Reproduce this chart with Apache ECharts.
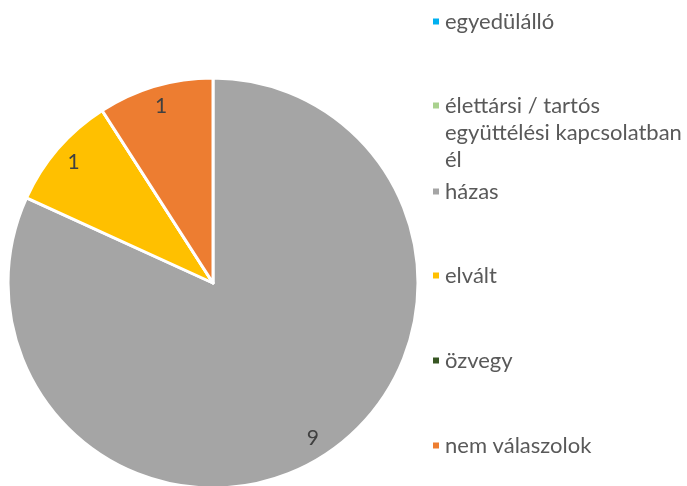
<!DOCTYPE html>
<html lang="hu">
<head>
<meta charset="UTF-8">
<title>Családi állapot</title>
<script src="https://cdn.jsdelivr.net/npm/echarts@6/dist/echarts.min.js"></script>
<style>
  html, body { margin: 0; padding: 0; background: #fff; }
  #chart { width: 687px; height: 486px; }
</style>
</head>
<body>
<div id="chart"></div>
<script>
// adatok
var categories = ['egyedülálló', 'élettársi / tartós együttélési kapcsolatban él', 'házas', 'elvált', 'özvegy', 'nem válaszolok'];
var values = [0, 0, 9, 1, 0, 1];
var colors = ['#00B0F0', '#A9D18E', '#A5A5A5', '#FFC000', '#375623', '#ED7D31'];
// a jelmagyarázat sortörései (két üres sor elöl, hogy a jel az első sorhoz igazodjon)
var legendText = {
    'élettársi / tartós együttélési kapcsolatban él': '\n\nélettársi / tartós\negyüttélési kapcsolatban\nél'
};

var chart = echarts.init(document.getElementById('chart'));

var pieData = categories.map(function (name, i) {
    return { name: name, value: values[i], itemStyle: { color: colors[i] } };
});

var legendTops = [3, 33, 173, 257, 342, 427];
var legends = categories.map(function (name, i) {
    return {
        data: [{ name: name, itemStyle: { color: colors[i] } }],
        orient: 'vertical',
        left: 426,
        top: legendTops[i],
        icon: 'rect',
        itemWidth: 8,
        itemHeight: 8,
        selectedMode: false,
        formatter: function (n) { return legendText[n] || n; },
        textStyle: {
            fontFamily: 'Lato',
            fontSize: 22,
            color: '#595959',
            lineHeight: 27
        }
    };
});

var option = {
    backgroundColor: '#fff',
    animation: false,
    legend: legends,
    series: [
        {
            type: 'pie',
            center: [213, 283],
            radius: [0, 205],
            startAngle: 90,
            clockwise: true,
            silent: true,
            data: pieData,
            itemStyle: { borderColor: '#fff', borderWidth: 3 },
            label: { show: false },
            labelLine: { show: false }
        },
        {
            // csak a címkék helyéhez
            type: 'pie',
            center: [213, 283],
            radius: [158, 205],
            startAngle: 90,
            clockwise: true,
            silent: true,
            data: categories.map(function (name, i) {
                return { name: name, value: values[i] };
            }),
            itemStyle: { color: 'rgba(0,0,0,0)', borderWidth: 0 },
            label: {
                show: true,
                position: 'inside',
                fontFamily: 'Lato',
                fontSize: 21,
                color: '#404040',
                formatter: function (p) { return p.value ? String(p.value) : ''; }
            },
            labelLine: { show: false }
        }
    ]
};
chart.setOption(option);
</script>
</body>
</html>
